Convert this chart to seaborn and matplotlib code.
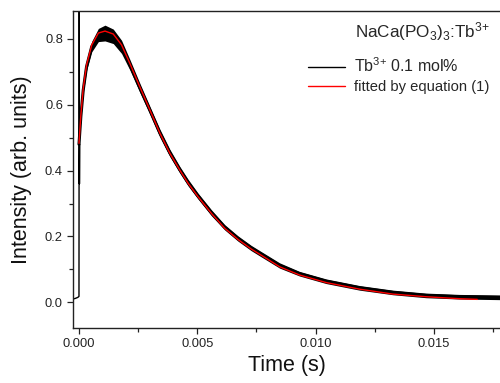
import numpy as np
import pandas as pd
import seaborn as sns
import matplotlib
matplotlib.use("Agg")
import matplotlib.pyplot as plt
from matplotlib.ticker import MultipleLocator, FormatStrFormatter

# baseline before excitation + the excitation spike (s, arb. units)
spike_t = [-0.00025, -0.00015, -0.00005, 0.0, 0.00001, 0.00002, 0.00003]
spike_v = [0.010, 0.012, 0.015, 0.018, 1.0, 0.36, 0.48]

# measured decay (centre of the noisy trace) and its noise half-width
data_t = [0.0, 0.00008, 0.00018, 0.00032, 0.00054, 0.00082, 0.0011, 0.00145,
          0.0018, 0.00215, 0.00257, 0.0030, 0.00342, 0.00384, 0.00426, 0.00461,
          0.00503, 0.0056, 0.00616, 0.00672, 0.00728, 0.00764, 0.00848, 0.00932,
          0.01045, 0.01186, 0.01327, 0.01467, 0.01608, 0.0170, 0.0179]
data_v = [0.48, 0.565, 0.645, 0.716, 0.777, 0.812, 0.818, 0.808,
          0.776, 0.722, 0.652, 0.583, 0.514, 0.454, 0.403, 0.364,
          0.323, 0.272, 0.228, 0.194, 0.165, 0.149, 0.112, 0.087,
          0.064, 0.044, 0.030, 0.021, 0.017, 0.016, 0.015]
data_noise = [0.006, 0.008, 0.010, 0.012, 0.016, 0.020, 0.024, 0.022,
              0.020, 0.016, 0.014, 0.012, 0.012, 0.011, 0.010, 0.010,
              0.009, 0.009, 0.008, 0.008, 0.008, 0.008, 0.008, 0.007,
              0.007, 0.007, 0.007, 0.007, 0.007, 0.007, 0.007]

# fitted curve, equation (1)
fit_t = [0.0, 0.00008, 0.00018, 0.00032, 0.00054, 0.00082, 0.0011, 0.00145,
         0.0018, 0.00215, 0.00257, 0.0030, 0.00342, 0.00384, 0.00426, 0.00461,
         0.00503, 0.0056, 0.00616, 0.00672, 0.00728, 0.00764, 0.00848, 0.00932,
         0.01045, 0.01186, 0.01327, 0.01467, 0.01608, 0.01684]
fit_v = [0.483, 0.569, 0.650, 0.721, 0.782, 0.818, 0.824, 0.815,
         0.782, 0.726, 0.655, 0.584, 0.514, 0.453, 0.402, 0.362,
         0.321, 0.270, 0.225, 0.191, 0.162, 0.146, 0.108, 0.083,
         0.060, 0.040, 0.025, 0.017, 0.011, 0.009]

sns.set_theme(style="ticks")
plt.rcParams['font.family'] = ['Liberation Sans', 'DejaVu Sans']
plt.rcParams['mathtext.default'] = 'regular'

df_data = pd.DataFrame({'t': data_t, 'v': data_v, 'n': data_noise})
df_spike = pd.DataFrame({'t': spike_t, 'v': spike_v})
df_fit = pd.DataFrame({'t': fit_t, 'v': fit_v})

fig = plt.figure(figsize=(5, 3.83), dpi=100)
ax = fig.add_axes([0.1466, 0.1436, 0.8534, 0.8277])

ax.fill_between(df_data['t'], df_data['v'] - df_data['n'], df_data['v'] + df_data['n'],
                color='black', lw=0)
sns.lineplot(data=df_spike, x='t', y='v', ax=ax, color='black', lw=1.0,
             estimator=None, sort=False)
sns.lineplot(data=df_data, x='t', y='v', ax=ax, color='black', lw=2.2,
             estimator=None, label=r'Tb$^{3{+}}$ 0.1 mol%')
sns.lineplot(data=df_fit, x='t', y='v', ax=ax, color='#ff0000', lw=1.0,
             estimator=None, label='fitted by equation (1)')

ax.set_xlim(-0.00024, 0.0178)
ax.set_ylim(-0.078, 0.885)
ax.xaxis.set_major_locator(MultipleLocator(0.005))
ax.xaxis.set_minor_locator(MultipleLocator(0.0025))
ax.yaxis.set_major_locator(MultipleLocator(0.2))
ax.yaxis.set_minor_locator(MultipleLocator(0.1))
ax.xaxis.set_major_formatter(FormatStrFormatter('%.3f'))
ax.yaxis.set_major_formatter(FormatStrFormatter('%.1f'))
ax.tick_params(which='major', direction='out', length=4.5, width=0.9,
               labelsize=9.3, colors='#222222', pad=3)
ax.tick_params(which='minor', direction='out', length=2.8, width=0.9, colors='#222222')
for side in ['left', 'bottom', 'top']:
    ax.spines[side].set_color('#222222')
    ax.spines[side].set_linewidth(1.0)
ax.spines['right'].set_visible(False)

ax.set_xlabel('Time (s)', fontsize=15.5, labelpad=3, color='#111111')
ax.set_ylabel('Intensity (arb. units)', fontsize=15.5, labelpad=9, color='#111111')

leg = ax.legend(loc='upper right', bbox_to_anchor=(0.976, 0.972), frameon=False,
                title=r'NaCa(PO$_3$)$_3$:Tb$^{3{+}}$', title_fontsize=12.3,
                fontsize=11.5, handlelength=2.3, handletextpad=0.6,
                labelspacing=0.3, borderpad=0, borderaxespad=0, alignment='right')
leg.get_texts()[1].set_fontsize(10.6)
for h in leg.legend_handles:
    h.set_linewidth(1.0)
leg._legend_box.sep = 10

fig.savefig('out.png', dpi=100)
